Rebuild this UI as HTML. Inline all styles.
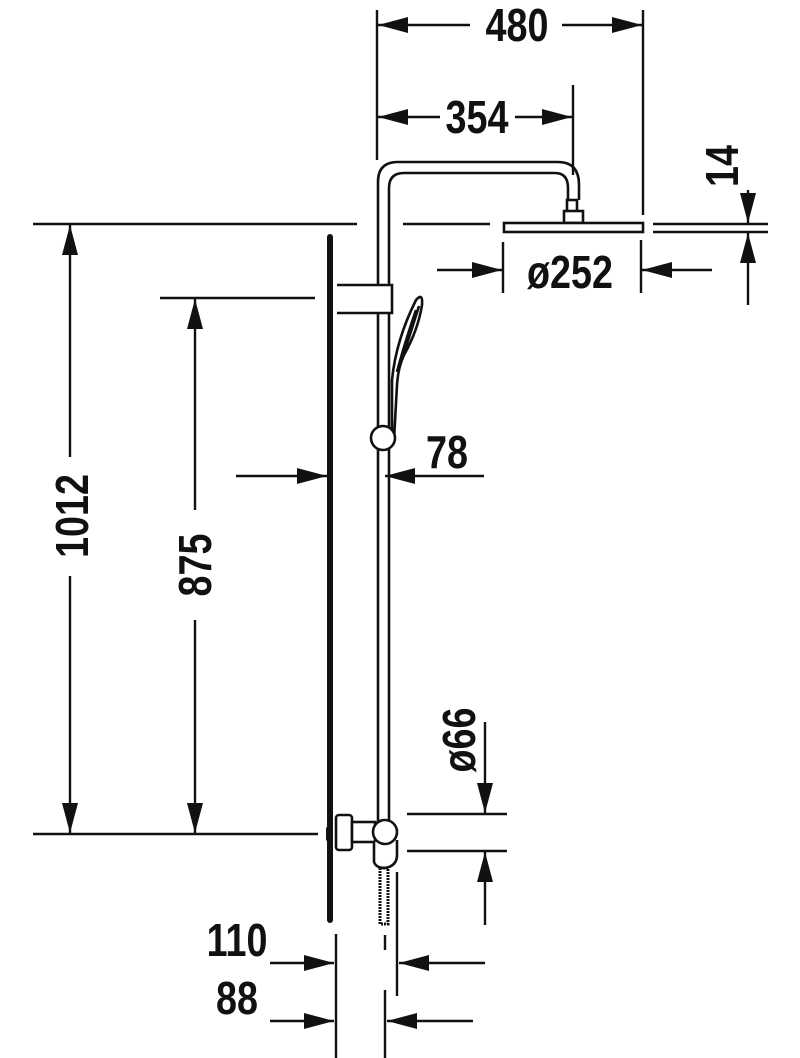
<!DOCTYPE html>
<html><head><meta charset="utf-8"><style>
html,body{margin:0;padding:0;background:#fff;}
svg{display:block;}
text{font-family:"Liberation Sans",sans-serif;font-weight:bold;fill:#111;}
</style></head><body>
<svg width="800" height="1058" viewBox="0 0 800 1058" xmlns="http://www.w3.org/2000/svg">
<defs>
<marker id="a" viewBox="0 0 30 16" refX="30" refY="8" markerWidth="30" markerHeight="16" markerUnits="userSpaceOnUse" orient="auto"><path d="M0,0 L30,8 L0,16 Z" fill="#111"/></marker>
</defs>
<g stroke="#111" stroke-width="2.4" fill="none">
<line x1="377" y1="10" x2="377" y2="160"/>
<line x1="643" y1="10" x2="643" y2="215"/>
<line x1="470" y1="25" x2="378" y2="25" marker-end="url(#a)"/>
<line x1="562" y1="25" x2="642" y2="25" marker-end="url(#a)"/>
<line x1="573" y1="85" x2="573" y2="175"/>
<line x1="440" y1="117" x2="378" y2="117" marker-end="url(#a)"/>
<line x1="515" y1="117" x2="572" y2="117" marker-end="url(#a)"/>
<line x1="33" y1="224" x2="357" y2="224"/>
<line x1="403" y1="224" x2="490" y2="224"/>
<line x1="653" y1="224" x2="768" y2="224"/>
<line x1="653" y1="232" x2="768" y2="232"/>
<line x1="748" y1="190" x2="748" y2="223" marker-end="url(#a)"/>
<line x1="748" y1="305" x2="748" y2="233" marker-end="url(#a)"/>
<line x1="503" y1="242" x2="503" y2="293"/>
<line x1="641" y1="240" x2="641" y2="293"/>
<line x1="437" y1="270" x2="502" y2="270" marker-end="url(#a)"/>
<line x1="712" y1="270" x2="642" y2="270" marker-end="url(#a)"/>
<line x1="70" y1="457" x2="70" y2="225" marker-end="url(#a)"/>
<line x1="70" y1="576" x2="70" y2="833" marker-end="url(#a)"/>
<line x1="160" y1="298" x2="315" y2="298"/>
<line x1="195" y1="510" x2="195" y2="299" marker-end="url(#a)"/>
<line x1="195" y1="620" x2="195" y2="833" marker-end="url(#a)"/>
<line x1="33" y1="834" x2="318" y2="834"/>
<line x1="236" y1="476" x2="327" y2="476" marker-end="url(#a)"/>
<line x1="484" y1="476" x2="385" y2="476" marker-end="url(#a)"/>
<line x1="407" y1="814" x2="507" y2="814"/>
<line x1="407" y1="851" x2="507" y2="851"/>
<line x1="485" y1="722" x2="485" y2="813" marker-end="url(#a)"/>
<line x1="485" y1="925" x2="485" y2="852" marker-end="url(#a)"/>
<line x1="336" y1="934" x2="336" y2="1058"/>
<line x1="397" y1="872" x2="397" y2="996"/>
<line x1="385" y1="935" x2="385" y2="950"/>
<line x1="385" y1="990" x2="385" y2="1058"/>
<line x1="270" y1="963" x2="334" y2="963" marker-end="url(#a)"/>
<line x1="485" y1="963" x2="399" y2="963" marker-end="url(#a)"/>
<line x1="270" y1="1021" x2="334" y2="1021" marker-end="url(#a)"/>
<line x1="473" y1="1021" x2="387" y2="1021" marker-end="url(#a)"/>
</g>
<line x1="330" y1="237" x2="330" y2="920" stroke="#111" stroke-width="6" stroke-linecap="round"/>
<g stroke="#111" stroke-width="2.6" fill="none">
<path d="M378,830 V182 Q378,162 398,162 H558 Q579,162 579,185 V200"/>
<path d="M389,830 V188 Q389,173 404,173 H555 Q568,173 568,188 V200"/>
<rect x="567" y="200" width="10" height="12" fill="#fff"/>
<rect x="564" y="211" width="19" height="12" fill="#fff"/>
<rect x="504" y="223" width="139" height="9" fill="#fff"/>
<path d="M337,285 H392 V313 H337" fill="#fff"/>
<path d="M392,440 L392,380 Q396,340 416,300 Q423,292 422,305 Q418,330 404,355 Q398,368 397,385 L394,440"/>
<path d="M397,372 Q404,345 416,310"/>
<path d="M401,362 Q410,335 419,306"/>
<circle cx="383" cy="438" r="12" fill="#fff"/>
<rect x="336" y="815" width="16" height="35" rx="3" fill="#fff"/>
<rect x="352" y="822" width="23" height="20" fill="#fff"/>
<path d="M374,842 V862 Q376,868 385,868 Q397,866 397,855 V840" fill="#fff"/>
<circle cx="385" cy="832" r="12" fill="#fff"/>
</g>
<rect x="380" y="868" width="8" height="56" fill="none" stroke="#111" stroke-width="3" stroke-dasharray="2 1"/>
<rect x="326" y="826" width="6" height="16" rx="3" fill="#111"/>
<g font-size="46" text-anchor="middle">
<text transform="translate(517,41) scale(0.82,1)">480</text>
<text transform="translate(477,133) scale(0.82,1)">354</text>
<text transform="translate(570,288) scale(0.82,1)">ø252</text>
<text transform="translate(447,468) scale(0.82,1)">78</text>
<text transform="translate(237,956) scale(0.82,1)">110</text>
<text transform="translate(237,1014) scale(0.82,1)">88</text>
<text transform="translate(88,516) rotate(-90) scale(0.82,1)">1012</text>
<text transform="translate(211,565) rotate(-90) scale(0.82,1)">875</text>
<text transform="translate(738,166) rotate(-90) scale(0.82,1)">14</text>
<text transform="translate(475,740) rotate(-90) scale(0.82,1)">ø66</text>
</g>
</svg>
</body></html>
